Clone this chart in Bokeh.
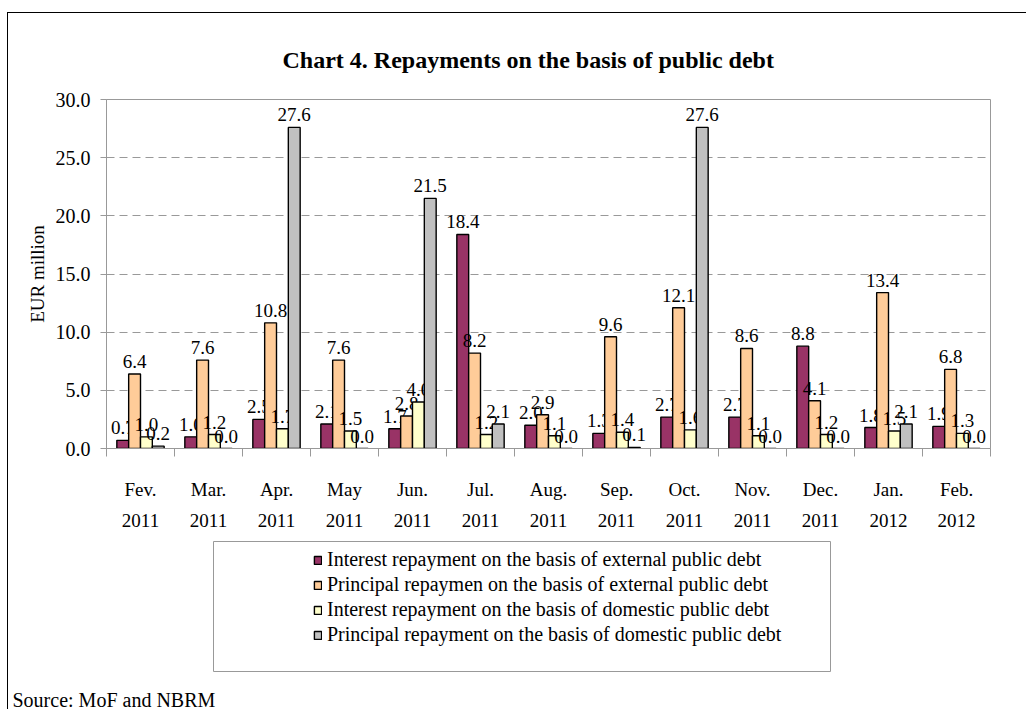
import numpy as np
from bokeh.plotting import figure
from bokeh.layouts import column
from bokeh.models import (ColumnDataSource, Range1d, FixedTicker, NumeralTickFormatter,
                          Legend, LegendItem, Label, BoxAnnotation, Title)
from bokeh.embed import file_html
from bokeh.resources import INLINE
from bokeh.core.properties import value

# ---------------- data ----------------
months = ["Fev.", "Mar.", "Apr.", "May", "Jun.", "Jul.", "Aug.", "Sep.", "Oct.", "Nov.", "Dec.", "Jan.", "Feb."]
years = ["2011", "2011", "2011", "2011", "2011", "2011", "2011", "2011", "2011", "2011", "2011", "2012", "2012"]

series_names = [
    "Interest repayment on the basis of external public debt",
    "Principal repaymen on the basis of external public debt",
    "Interest repayment on the basis of domestic public debt",
    "Principal repayment on the basis of domestic public debt",
]
interest_external = [0.7, 1.0, 2.5, 2.1, 1.7, 18.4, 2.0, 1.3, 2.7, 2.7, 8.8, 1.8, 1.9]
principal_external = [6.4, 7.6, 10.8, 7.6, 2.8, 8.2, 2.9, 9.6, 12.1, 8.6, 4.1, 13.4, 6.8]
interest_domestic = [1.0, 1.2, 1.7, 1.5, 4.0, 1.2, 1.1, 1.4, 1.6, 1.1, 1.2, 1.5, 1.3]
principal_domestic = [0.2, 0.0, 27.6, 0.0, 21.5, 2.1, 0.0, 0.1, 27.6, 0.0, 0.0, 2.1, 0.0]

y_ticks = [0, 5, 10, 15, 20, 25, 30]

colors = ["#993366", "#FFCC99", "#FFFFCC", "#C0C0C0"]

# ---------------- layout constants ----------------
OX, OY = 8, 13                      # page position of the content origin (after margin + border)
W = 1018
H1, H2 = 524, 172
FL, FR, FT, FB = 98, 982, 86, 435   # main frame edges in canvas px
SERIF = "Liberation Serif"
GRAY = "#999999"

p = figure(width=W, height=H1, output_backend="svg", toolbar_location=None,
           x_range=Range1d(-0.5, len(months) - 0.5), y_range=Range1d(0, 30),
           min_border_left=FL, min_border_right=W - FR, min_border_top=FT, min_border_bottom=H1 - FB)
p.frame_align = False
p.background_fill_color = "white"
p.border_fill_color = "white"
p.outline_line_color = GRAY
p.outline_line_width = 1

title = Title(text="Chart 4. Repayments on the basis of public debt", align="left", offset=176,
              standoff=54, text_font=SERIF, text_font_size="24px", text_font_style="bold",
              text_color="black")
p.add_layout(title, "above")

# y axis
ya = p.yaxis[0]
ya.ticker = FixedTicker(ticks=y_ticks)
ya.formatter = NumeralTickFormatter(format="0.0")
ya.major_tick_in = 0
ya.major_tick_out = 6
ya.minor_tick_line_color = None
ya.axis_line_color = GRAY
ya.major_tick_line_color = GRAY
ya.major_label_text_font = SERIF
ya.major_label_text_font_size = "20px"
ya.major_label_text_color = "black"
ya.major_label_standoff = 10
ya.axis_label = "EUR million"
ya.axis_label_text_font = SERIF
ya.axis_label_text_font_size = "19px"
ya.axis_label_text_font_style = "normal"
ya.axis_label_text_color = "black"
ya.axis_label_standoff = 5

p.xgrid.visible = False
p.ygrid.ticker = FixedTicker(ticks=y_ticks[1:-1])
p.ygrid.grid_line_color = GRAY
p.ygrid.grid_line_dash = "8 5"
p.ygrid.grid_line_width = 1

# x axis: labels at category centres, minor ticks at category boundaries
n = len(months)
xa = p.xaxis[0]
xa.ticker = FixedTicker(ticks=list(range(n)), minor_ticks=[i - 0.5 for i in range(n + 1)])
xa.major_label_overrides = {i: f"{m}\n{y}" for i, (m, y) in enumerate(zip(months, years))}
xa.axis_line_color = GRAY
xa.major_tick_line_color = None
xa.major_tick_in = 0
xa.major_tick_out = 0
xa.minor_tick_line_color = GRAY
xa.minor_tick_in = 0
xa.minor_tick_out = 8
xa.major_label_text_font = SERIF
xa.major_label_text_font_size = "19px"
xa.major_label_text_color = "black"
xa.major_label_text_line_height = 1.5
xa.major_label_standoff = 22

# bars + value labels
values = [interest_external, principal_external, interest_domestic, principal_domestic]
offsets = [-0.261, -0.087, 0.087, 0.261]
bar_w = 0.174
xs = np.arange(n)
sources = []
for vals, off, col in zip(values, offsets, colors):
    src = ColumnDataSource(dict(x=xs + off, top=vals, label=[f"{v:.1f}" for v in vals]))
    sources.append(src)
    p.vbar(x="x", top="top", bottom=0, width=bar_w, source=src,
           fill_color=col, line_color="black", line_width=1.4)
    p.text(x="x", y="top", text="label", source=src, text_align="center", text_baseline="bottom",
           y_offset=-6, text_font=value(SERIF), text_font_size="19px", text_color="black")

# ---------------- bottom panel: legend + source (data coords = page px) ----------------
TOP2 = OY + H1
p2 = figure(width=W, height=H2, output_backend="svg", toolbar_location=None,
            x_range=Range1d(OX, OX + W), y_range=Range1d(TOP2 + H2, TOP2),
            x_axis_location=None, y_axis_location=None,
            min_border=0, min_border_left=0, min_border_right=0, min_border_top=0, min_border_bottom=0)
p2.frame_align = False
p2.grid.visible = False
p2.outline_line_color = None
p2.background_fill_color = "white"
p2.border_fill_color = "white"

p2.add_layout(BoxAnnotation(left=213, right=830, top=541, bottom=671,
                            fill_alpha=0, line_color=GRAY, line_width=1, line_alpha=1))

# legend swatches: the same bar series, kept hidden in this panel
legend_renderers = []
for src, col in zip(sources, colors):
    r = p2.vbar(x="x", top="top", bottom=0, width=bar_w, source=src,
                fill_color=col, line_color="black", line_width=1.4)
    r.visible = False
    legend_renderers.append(r)

legend = Legend(items=[LegendItem(label=nm, renderers=[r]) for nm, r in zip(series_names, legend_renderers)],
                location=(313 - OX, (TOP2 + H2) - 646), orientation="vertical",
                padding=0, margin=0, spacing=2, glyph_width=9, glyph_height=10,
                label_height=23, label_standoff=5,
                label_text_font=SERIF, label_text_font_size="20px", label_text_color="black",
                border_line_color=None, background_fill_alpha=0,
                inactive_fill_alpha=0)
p2.add_layout(legend)

p2.add_layout(Label(x=12, y=699, text="Source: MoF and NBRM", text_font=SERIF, text_font_size="20px",
                    text_align="left", text_baseline="middle", text_color="black"))

layout = column(p, p2, spacing=0, margin=(12, 0, 0, 7),
                styles={"border-top": "1px solid black", "border-left": "1px solid black"})

open("out.html", "w").write(file_html(layout, INLINE))
